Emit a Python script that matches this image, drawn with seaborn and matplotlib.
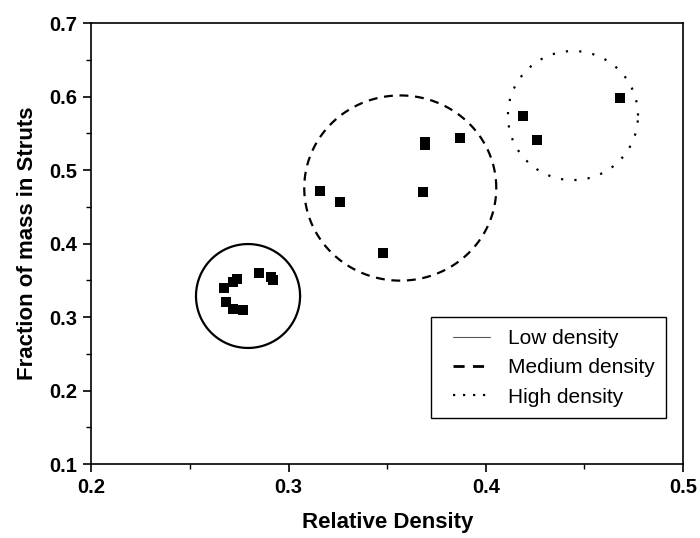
import numpy as np
import pandas as pd
import matplotlib
matplotlib.use("Agg")
import matplotlib.pyplot as plt
from matplotlib.ticker import MultipleLocator
import seaborn as sns

# measured points, grouped by density class
low_x = [0.267, 0.268, 0.272, 0.274, 0.272, 0.277, 0.285, 0.291, 0.292]
low_y = [0.340, 0.320, 0.348, 0.352, 0.311, 0.309, 0.360, 0.354, 0.350]
med_x = [0.316, 0.326, 0.348, 0.368, 0.369, 0.369, 0.387]
med_y = [0.471, 0.456, 0.387, 0.470, 0.538, 0.534, 0.543]
high_x = [0.419, 0.426, 0.468]
high_y = [0.573, 0.541, 0.598]

# the rings drawn round each group (centre and half-widths in data units)
ring_names = ['Low density', 'Medium density', 'High density']
ring_cx = [0.2794, 0.3566, 0.4442]
ring_cy = [0.3286, 0.4755, 0.5741]
ring_rx = [0.0264, 0.0487, 0.0330]
ring_ry = [0.0707, 0.1260, 0.0878]

df = pd.DataFrame({
    'Relative Density': low_x + med_x + high_x,
    'Fraction of mass in Struts': low_y + med_y + high_y,
})

sns.set_style('ticks')
plt.rcParams['font.family'] = ['Liberation Sans', 'DejaVu Sans']
for key in ['text.color', 'axes.labelcolor', 'xtick.color', 'ytick.color']:
    plt.rcParams[key] = 'black'

fig = plt.figure(figsize=(7, 5.38), dpi=100)
ax = fig.add_axes([0.1307, 0.1375, 0.845, 0.8197])

sns.scatterplot(data=df, x='Relative Density', y='Fraction of mass in Struts',
                marker='s', s=55, color='black', edgecolor='black', linewidth=0,
                ax=ax, legend=False, zorder=3)

styles = ['-', (0, (4, 3)), (0, (1, 5))]
t = np.linspace(0, 2 * np.pi, 400)
for name, cx, cy, rx, ry, ls in zip(ring_names, ring_cx, ring_cy, ring_rx, ring_ry, styles):
    ax.plot(cx + rx * np.cos(t), cy + ry * np.sin(t), color='black',
            linestyle=ls, linewidth=1.6, label=name)

ax.set_xlim(0.2, 0.5)
ax.set_ylim(0.1, 0.7)
ax.xaxis.set_major_locator(MultipleLocator(0.1))
ax.xaxis.set_minor_locator(MultipleLocator(0.05))
ax.yaxis.set_major_locator(MultipleLocator(0.1))
ax.yaxis.set_minor_locator(MultipleLocator(0.05))
ax.xaxis.set_major_formatter(plt.FuncFormatter(lambda v, p: f'{v:.1f}'))
ax.yaxis.set_major_formatter(plt.FuncFormatter(lambda v, p: f'{v:.1f}'))
ax.tick_params(which='major', direction='out', length=6, width=1.2, labelsize=14.5, pad=4)
ax.tick_params(which='minor', direction='out', length=3.5, width=1.0)
for lab in ax.get_xticklabels() + ax.get_yticklabels():
    lab.set_fontweight('bold')

for sp in ax.spines.values():
    sp.set_visible(True)
    sp.set_linewidth(1.2)
    sp.set_color('black')

ax.set_xlabel('Relative Density', fontsize=16, fontweight='bold', labelpad=11)
ax.set_ylabel('Fraction of mass in Struts', fontsize=16, fontweight='bold', labelpad=8)

leg = ax.legend(loc='lower left', bbox_to_anchor=(0.574, 0.104), borderaxespad=0,
                fontsize=15, fancybox=False, edgecolor='black', framealpha=1,
                handlelength=2.28, handletextpad=0.85, borderpad=0.55, labelspacing=0.5)
leg.get_frame().set_linewidth(1.0)
# the sample lines start a little way in from the frame
for line in leg.get_lines():
    xd = np.asarray(line.get_xdata(), dtype=float)
    line.set_xdata(np.linspace(xd[0] + 7.5, xd[-1], len(xd)))
leg.get_lines()[0].set_linewidth(0.8)
leg.get_lines()[0].set_color('0.35')
leg.get_lines()[1].set_linewidth(2.0)
leg.get_lines()[2].set_linewidth(1.6)
leg.get_lines()[2].set_linestyle((0, (1, 3.5)))

fig.savefig('out.png', dpi=100)
